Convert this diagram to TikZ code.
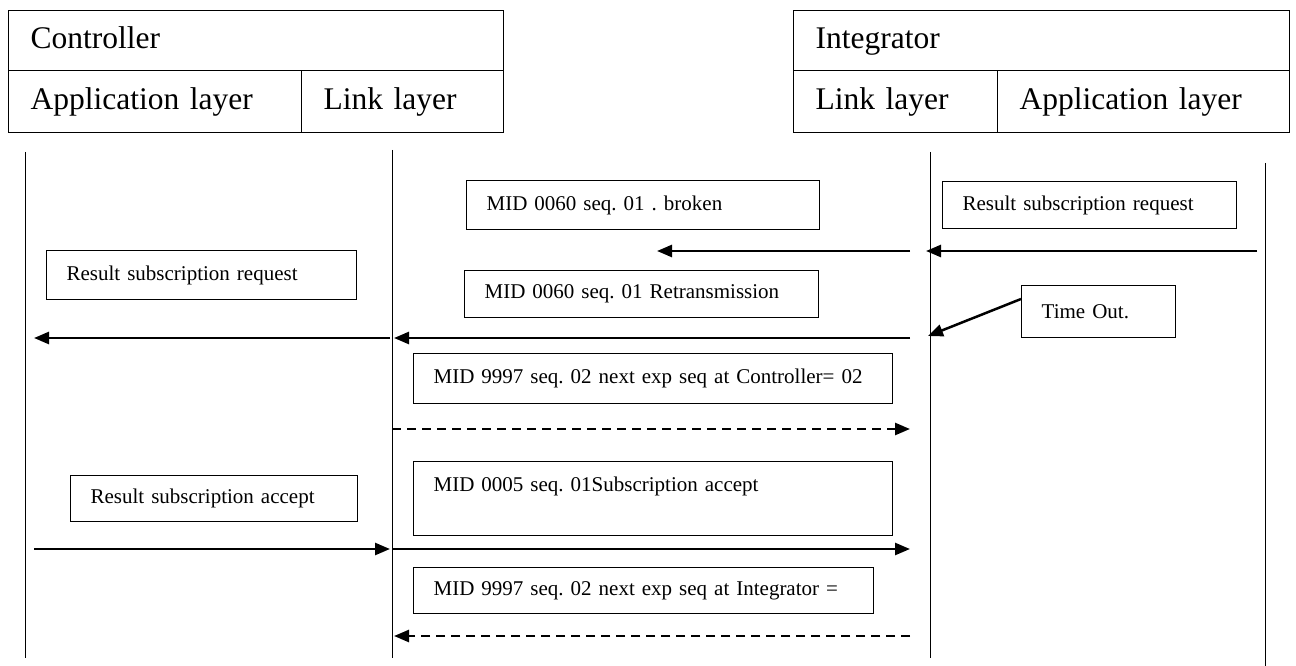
\documentclass[tikz,border=0pt]{standalone}
\usepackage{fontspec}
\setmainfont{Liberation Serif}
\usetikzlibrary{arrows.meta}
\begin{document}
\frenchspacing
\begin{tikzpicture}[x=1pt,y=-1pt,
 hdr/.style={draw, line width=1.3pt, anchor=north west, inner xsep=22pt, inner ysep=0pt, align=left, text height=22pt, text depth=7pt, font=\fontsize{31.5}{36}\selectfont},
 msg/.style={draw, line width=1.3pt, anchor=north west, inner xsep=20pt, inner ysep=0pt, align=left, font=\fontsize{21}{25}\selectfont},
 life/.style={line width=0.9pt},
 arr/.style={line width=2.5pt, -{Triangle[length=15pt,width=12pt]}},
 darr/.style={arr, dash pattern=on 9pt off 6pt},
]
\useasboundingbox (0,0) rectangle (1296,666);
% headers
\node[hdr, minimum width=495pt, minimum height=60pt, text width=451pt] (ctrl) at (8,10) {Controller};
\node[hdr, minimum width=293pt, minimum height=62pt, text width=249pt] (capp) at (8,70) {Application layer};
\node[hdr, minimum width=202pt, minimum height=62pt, text width=158pt] (clink) at (301,70) {Link layer};
\node[hdr, minimum width=496pt, minimum height=60pt, text width=452pt] (intg) at (793,10) {Integrator};
\node[hdr, minimum width=204pt, minimum height=62pt, text width=160pt] (ilink) at (793,70) {Link layer};
\node[hdr, minimum width=292pt, minimum height=62pt, text width=248pt] (iapp) at (997,70) {Application layer};
% lifelines
\coordinate (l1t) at (25,152); \coordinate (l1b) at (25,658);
\coordinate (l2t) at (392,150); \coordinate (l2b) at (392,658);
\coordinate (l3t) at (930,152); \coordinate (l3b) at (930,658);
\coordinate (l4t) at (1265,163); \coordinate (l4b) at (1265,666);
\draw[life] (l1t) -- (l1b);
\draw[life] (l2t) -- (l2b);
\draw[life] (l3t) -- (l3b);
\draw[life] (l4t) -- (l4b);
% message boxes
\node[msg, minimum width=353pt, minimum height=49pt, text width=313pt] (m1) at (466,180) {MID 0060 seq. 01 . broken};
\node[msg, minimum width=294pt, minimum height=47pt, text width=254pt] (r1) at (942,181) {Result subscription request};
\node[msg, minimum width=310pt, minimum height=49pt, text width=270pt] (q1) at (46,250) {Result subscription request};
\node[msg, minimum width=354pt, minimum height=47pt, text width=314pt] (m2) at (464,270) {MID 0060 seq. 01 Retransmission};
\node[msg, minimum width=154pt, minimum height=52pt, text width=114pt] (to) at (1021,285) {Time Out.};
\node[msg, minimum width=479pt, minimum height=50pt, text width=439pt] (m3) at (413,353) {MID 9997 seq. 02 next exp seq at Controller= 02};
\node[msg, text width=439pt, inner ysep=10pt, text height=20pt, text depth=34pt] (m4) at (413,461) {MID 0005 seq. 01Subscription accept};
\node[msg, minimum width=287pt, minimum height=46pt, text width=247pt] (q2) at (70,475) {Result subscription accept};
\node[msg, minimum width=460pt, minimum height=46pt, text width=420pt] (m5) at (413,567) {MID 9997 seq. 02 next exp seq at Integrator =};
% arrow end points
\coordinate (a1s) at (1257,251); \coordinate (a1e) at (926,251);
\coordinate (b1s) at (910,251); \coordinate (b1e) at (657,251);
\coordinate (a2s) at (910,338); \coordinate (a2e) at (394,338);
\coordinate (b2s) at (390,338); \coordinate (b2e) at (34,338);
\coordinate (tos) at (1021,299); \coordinate (toe) at (928,336);
\coordinate (a3s) at (392,429); \coordinate (a3e) at (910,429);
\coordinate (a4s) at (34,549); \coordinate (a4e) at (390,549);
\coordinate (b4s) at (392,549); \coordinate (b4e) at (910,549);
\coordinate (a5s) at (910,636); \coordinate (a5e) at (394,636);
% arrows
\draw[arr] (a1s) -- (a1e);
\draw[arr] (b1s) -- (b1e);
\draw[arr] (a2s) -- (a2e);
\draw[arr] (b2s) -- (b2e);
\draw[arr] (tos) -- (toe);
\draw[darr] (a3s) -- (a3e);
\draw[arr] (a4s) -- (a4e);
\draw[arr] (b4s) -- (b4e);
\draw[darr] (a5s) -- (a5e);
\end{tikzpicture}
\end{document}
